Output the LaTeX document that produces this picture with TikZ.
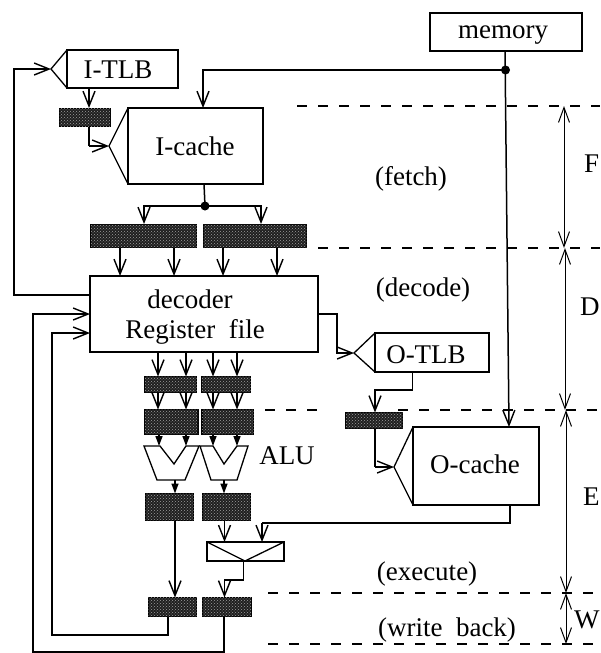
\documentclass[tikz,border=0pt]{standalone}
\usepackage{fontspec}
\setmainfont{Liberation Serif}
\usetikzlibrary{arrows.meta,patterns}
\tikzset{
  boxline/.style={draw=black,line width=1.3pt,fill=white,inner sep=0pt,outer sep=0pt},
  regbox/.style={draw=black,line width=1.7pt,fill=black!88,inner sep=0pt,outer sep=0pt,
    postaction={pattern=crosshatch dots,pattern color=black!38}},
  conn/.style={draw=black,line width=1.5pt},
  arr/.style={conn,-{Straight Barb[length=15pt,width=12pt,line width=1.4pt]}},
  wedge/.style={conn,-{Triangle[length=10pt,width=7pt]}},
  dim/.style={draw=black,line width=1pt,{Straight Barb[length=15pt,width=11pt,line width=1pt]}-{Straight Barb[length=15pt,width=11pt,line width=1pt]}},
  stage/.style={draw=black,line width=1.2pt,dash pattern=on 10pt off 11pt},
  lab/.style={inner sep=0pt,anchor=base,font=\fontsize{27}{30}\selectfont},
  dot/.style={circle,fill=black,inner sep=0pt,minimum size=9pt}
}
\newcommand{\bx}[6]{\node[#1,minimum width={(#5)-(#3)},minimum height={(#6)-(#4)}] (#2) at ({((#3)+(#5))/2},{((#4)+(#6))/2}) {};}
\begin{document}
\begin{tikzpicture}[x=1pt,y=-1pt]
\useasboundingbox (0,0) rectangle (600,653);
\fill[white] (0,0) rectangle (600,653);
% stage boundaries
\coordinate (s1a) at (297,106); \coordinate (s1b) at (600,106);
\coordinate (s2a) at (318,248); \coordinate (s2b) at (600,248);
\coordinate (s3a) at (265,410); \coordinate (s3c) at (319,410);
\coordinate (s3d) at (398,410); \coordinate (s3b) at (600,410);
\coordinate (s4a) at (268,593); \coordinate (s4b) at (600,593);
\coordinate (s5a) at (268,644); \coordinate (s5b) at (600,644);
\draw[stage] (s1a) -- (s1b);
\draw[stage] (s2a) -- (s2b);
\draw[stage] (s3a) -- (s3c);
\draw[stage] (s3d) -- (s3b);
\draw[stage] (s4a) -- (s4b);
\draw[stage] (s5a) -- (s5b);
% boxes
\bx{boxline}{mem}{430}{13}{582}{51}
\bx{boxline}{itlb}{67}{50}{178}{88}
\bx{regbox}{ritlb}{59.5}{108.5}{110.5}{126.5}
\bx{boxline}{icache}{128}{108}{263}{184}
\bx{regbox}{fa}{90.5}{224.5}{196.5}{247.5}
\bx{regbox}{fb}{203.5}{224.5}{306.5}{247.5}
\bx{boxline}{dec}{90}{276}{318}{352}
\bx{regbox}{ra}{144.5}{376.5}{196.5}{392.5}
\bx{regbox}{rb}{201.5}{376.5}{250.5}{392.5}
\bx{regbox}{sa}{144.5}{409.5}{198.2}{434.5}
\bx{regbox}{sb}{201.8}{409.5}{253.5}{434.5}
\bx{regbox}{xa}{145.5}{493.5}{193.5}{520.5}
\bx{regbox}{xb}{202.5}{493.5}{250.5}{520.5}
\bx{regbox}{wa}{148.5}{597.5}{196.5}{616.5}
\bx{regbox}{wb}{202.5}{597.5}{251.5}{616.5}
\bx{boxline}{mux}{207}{542}{284}{561}
\bx{boxline}{otlb}{375}{333}{489}{372}
\bx{regbox}{rotlb}{345.5}{412.5}{402.5}{428.5}
\bx{boxline}{ocache}{413}{427}{539}{505}
% tips of the TLBs and caches
\coordinate (itlbtip) at (51,69);
\coordinate (ictip) at (109,146);
\coordinate (otlbtip) at (354,353);
\coordinate (octip) at (394,467);
\draw[conn,line width=1.3pt] (itlb.north west) -- (itlbtip) -- (itlb.south west);
\draw[conn,line width=1.3pt] (icache.north west) -- (ictip) -- (icache.south west);
\draw[conn,line width=1.3pt] (otlb.north west) -- (otlbtip) -- (otlb.south west);
\draw[conn,line width=1.3pt] (ocache.north west) -- (octip) -- (ocache.south west);
\coordinate (muxtip) at (245,561);
\draw[conn,line width=1.3pt] (mux.north west) -- (muxtip) -- (mux.north east);
% ALUs
\draw[boxline] (144,446) -- (160,446) -- (174,464) -- (186,446) -- (199,446) -- (185,480) -- (157,480) -- cycle;
\draw[boxline] (200,446) -- (213,446) -- (224,464) -- (237,446) -- (248,446) -- (237,480) -- (211,480) -- cycle;
\coordinate (alua1) at (159,446); \coordinate (alua2) at (186,446);
\coordinate (alub1) at (213,446); \coordinate (alub2) at (237,446);
\coordinate (aluao) at (175,480); \coordinate (alubo) at (224,480);
% memory bus
\node[dot] (bus) at (505.5,70) {};
\coordinate (octop) at (509,427);
\draw[arr] (505,51) -- (octop);
\draw[arr] (bus.center) -- (203,70) -- (203 ,108);
% I side
\draw[arr] (89,88) -- (89,108);
\draw[conn] (89,127) -- (89,146);
\draw[arr] (89,146) -- (ictip);
\node[dot] (ifetch) at (205,206) {};
\draw[conn] (204,184) -- (ifetch.center);
\draw[arr] (ifetch.center) -- (144,206) -- (144,224);
\draw[arr] (ifetch.center) -- (261,206) -- (261,224);
\foreach \n/\m/\xx in {fa/dec/120,fa/dec/174,fb/dec/223,fb/dec/277}{
  \draw[arr] (\xx,0 |- \n.south) -- (\xx,0 |- \m.north);}
\foreach \n/\m/\xx in {ra/dec/158,ra/dec/186,rb/dec/213,rb/dec/237}{
  \draw[arr] (\xx,0 |- \m.south) -- (\xx,0 |- \n.north);
  }
\foreach \n/\m/\xx in {ra/sa/158,ra/sa/186,rb/sb/213,rb/sb/237}{
  \draw[arr] (\xx,0 |- \n.south) -- (\xx,0 |- \m.north);}
\draw[wedge] (alua1 |- sa.south) -- (alua1);
\draw[wedge] (alua2 |- sa.south) -- (alua2);
\draw[wedge] (alub1 |- sb.south) -- (alub1);
\draw[wedge] (alub2 |- sb.south) -- (alub2);
\draw[wedge] (aluao) -- (aluao |- xa.north);
\draw[wedge] (alubo) -- (alubo |- xb.north);
% execute to write back
\draw[arr] (175,0 |- xa.south) -- (175,0 |- wa.north);
\draw[arr] (224.5,0 |- xb.south) -- (224.5,0 |- mux.north);
\draw[conn] (ocache.south -| 510,0) -- (510,523) -- (262,523);
\draw[arr] (262,523) -- (262,0 |- mux.north);
\draw[arr] (muxtip -| 243.5,0) -- (243.5,580) -- (224.5,580) -- (224.5,0 |- wb.north);
% feedbacks
\draw[arr] (dec.west |- 0,295) -- (14,295) -- (14,69) -- (itlbtip);
\draw[arr] (224,0 |- wb.south) -- (224,652) -- (33,652) -- (33,314) -- (dec.west |- 0,314);
\draw[arr] (168,0 |- wa.south) -- (168,635) -- (52,635) -- (52,333) -- (dec.west |- 0,333);
% O side
\draw[arr] (dec.east |- 0,314) -- (337,314) -- (337,353) -- (otlbtip);
\draw[arr] (412.5,0 |- otlb.south) -- (412.5,390) -- (375,390) -- (375,0 |- rotlb.north);
\draw[conn] (375,0 |- rotlb.south) -- (375,467);
\draw[arr] (375,467) -- (octip);
% stage spans
\draw[dim] (564,0 |- s1a) -- (564,0 |- s2a);
\draw[dim] (565,0 |- s2a) -- (565,0 |- s3a);
\draw[dim] (566,0 |- s3a) -- (566,0 |- s4a);
\draw[dim] (566,0 |- s4a) -- (566,0 |- s5a);
% labels
\node[lab] (tmem) at (503,38) {memory};
\node[lab] (titlb) at (118,78) {I-TLB};
\node[lab] (tic) at (195,155) {I-cache};
\node[lab] (tdec) at (190,308) {decoder};
\node[lab] (treg) at (195,338) {Register\ \ file};
\node[lab] (totlb) at (426,363) {O-TLB};
\node[lab] (toc) at (475,473) {O-cache};
\node[lab] (talu) at (287,464) {ALU};
\node[lab] (tf) at (411,185) {(fetch)};
\node[lab] (td) at (423,296) {(decode)};
\node[lab] (te) at (427,580) {(execute)};
\node[lab] (tw) at (447,636) {(write\ \ back)};
\node[lab,anchor=base west] (lf) at (584,172) {F};
\node[lab,anchor=base west] (ld) at (580,315) {D};
\node[lab,anchor=base west] (le) at (583,505) {E};
\node[lab,anchor=base west] (lw) at (574,628) {W};
\end{tikzpicture}
\end{document}
